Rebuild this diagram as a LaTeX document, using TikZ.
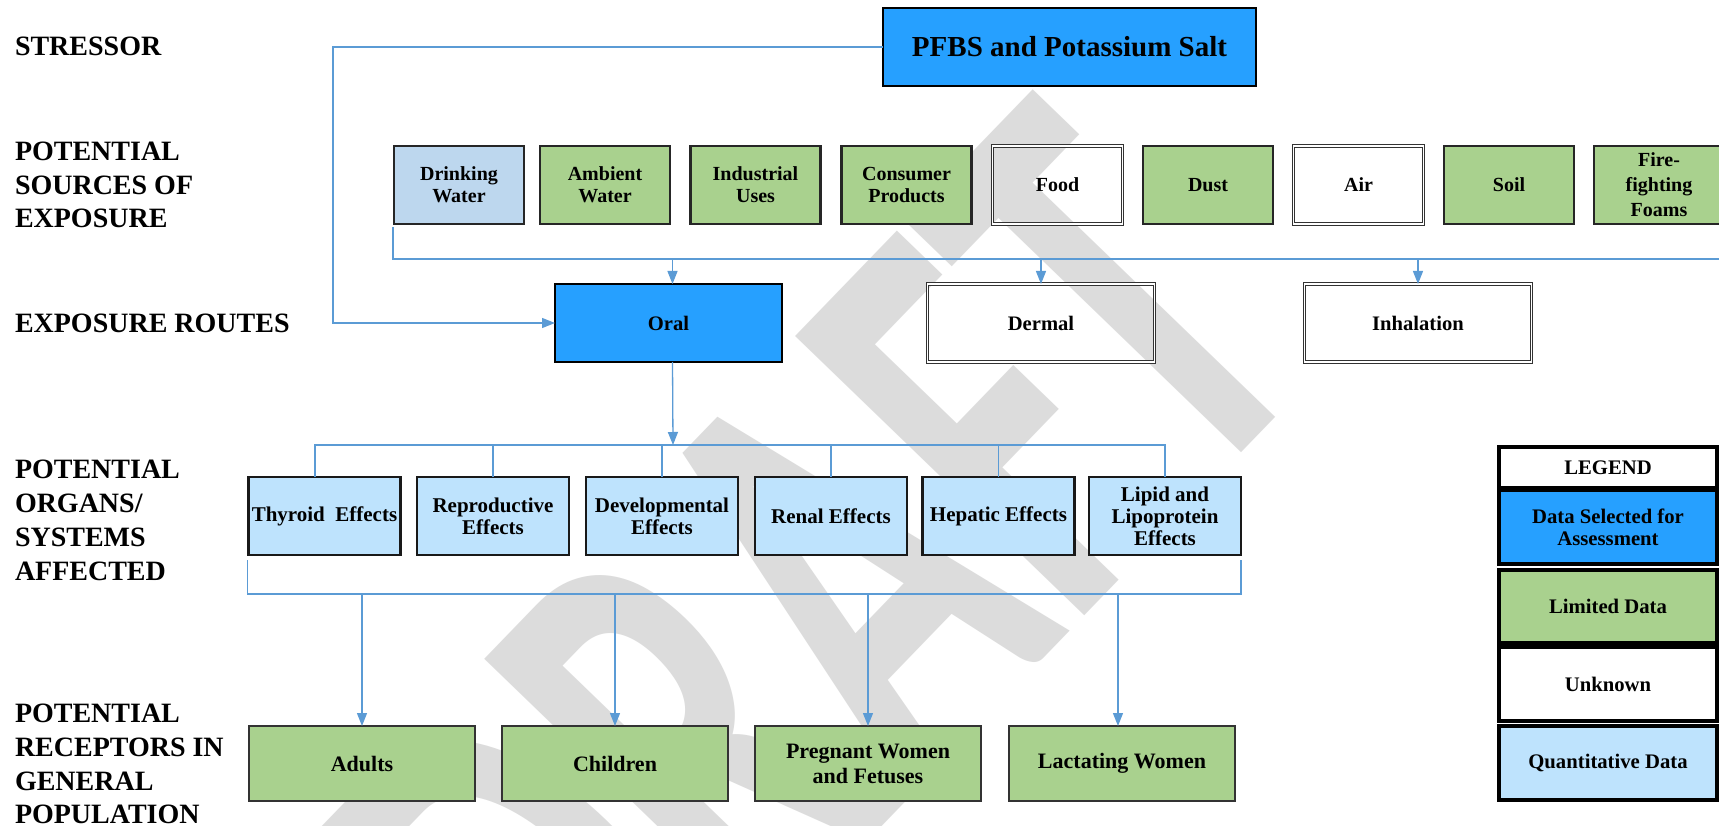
\documentclass[tikz,border=0pt]{standalone}
\usepackage{fontspec}
\usepackage{graphicx}
\setmainfont{Liberation Serif}
\newfontfamily\wmfont{Carlito}
\usetikzlibrary{arrows.meta}
\definecolor{bblue}{HTML}{26A0FF}
\definecolor{bgreen}{HTML}{A9D18E}
\definecolor{dwblue}{HTML}{BDD7EE}
\definecolor{lblue}{HTML}{BEE3FD}
\definecolor{lnblue}{HTML}{5B9BD5}
\definecolor{wmgray}{HTML}{DCDCDC}
\begin{document}
\begin{tikzpicture}[x=1pt,y=-1pt,
  every node/.style={inner sep=0pt, outer sep=0pt},
  bx/.style={align=center, font=\fontsize{20}{22}\selectfont\bfseries, line width=2.2pt, draw=black!85, minimum height=78pt},
  src/.style={bx, minimum width=130pt},
  eff/.style={bx, minimum width=152pt, fill=lblue, draw=black!90, font=\fontsize{21}{22}\selectfont\bfseries},
  rte/.style={bx, minimum width=227pt, font=\fontsize{20.6}{22}\selectfont\bfseries},
  rec/.style={bx, minimum width=226pt, minimum height=75pt, fill=bgreen, line width=1.2pt, draw=black!80, font=\fontsize{22}{25}\selectfont\bfseries},
  unk/.style={draw=black!80, line width=0.9pt, double=white, double distance=1.4pt},
  leg/.style={align=center, font=\fontsize{20.7}{22}\selectfont\bfseries, draw=black, line width=3.5pt, minimum width=218pt},
  lab/.style={anchor=base west, font=\fontsize{28}{34}\selectfont\bfseries},
  conn/.style={draw=lnblue, line width=1.3pt},
  arr/.style={conn, -{Triangle[length=13pt,width=10pt]}},
]
\useasboundingbox (0,0) rectangle (1719,826);
\clip (0,0) rectangle (1719,826);
\fill[white] (0,0) rectangle (1719,826);

% watermark
\node[rotate=46, anchor=base east, text=wmgray, font=\wmfont\fontsize{620}{620}\selectfont\bfseries] (wm) at (1325,367) {\scalebox{0.62}[1]{DRAFT}};

% left labels
\node[lab] (t1) at (15,56) {STRESSOR};
\node[lab] (t2a) at (15,161) {POTENTIAL};
\node[lab] (t2b) at (15,195) {SOURCES OF};
\node[lab] (t2c) at (15,228) {EXPOSURE};
\node[lab] (t3) at (15,333) {EXPOSURE ROUTES};
\node[lab] (t4a) at (15,478) {POTENTIAL};
\node[lab] (t4b) at (15,512) {ORGANS/};
\node[lab] (t4c) at (15,546) {SYSTEMS};
\node[lab] (t4d) at (15,580) {AFFECTED};
\node[lab] (t5a) at (15,722) {POTENTIAL};
\node[lab] (t5b) at (15,756) {RECEPTORS IN};
\node[lab] (t5c) at (15,790) {GENERAL};
\node[lab] (t5d) at (15,823) {POPULATION};

% stressor
\node[bx, fill=bblue, draw=black, minimum width=373pt, font=\fontsize{29}{30}\selectfont\bfseries] (pfbs) at (1069.5,47) {PFBS and Potassium Salt};

% sources
\node[src, fill=dwblue] (drink) at (459,185) {Drinking\\Water};
\node[src, fill=bgreen] (amb) at (605,185) {Ambient\\Water};
\node[src, fill=bgreen] (ind) at (755.5,185) {Industrial\\Uses};
\node[src, fill=bgreen] (cons) at (906.5,185) {Consumer\\Products};
\node[src, unk] (food) at (1057.5,185) {Food};
\node[src, fill=bgreen] (dust) at (1208,185) {Dust};
\node[src, unk] (air) at (1358.5,185) {Air};
\node[src, fill=bgreen] (soil) at (1509,185) {Soil};
\node[src, fill=bgreen, font=\fontsize{20}{25}\selectfont\bfseries] (fire) at (1659,185) {Fire-\\fighting\\Foams};

% routes
\node[rte, fill=bblue, draw=black] (oral) at (668.5,323) {Oral};
\node[rte, unk] (derm) at (1041,323) {Dermal};
\node[rte, unk] (inh) at (1418,323) {Inhalation};

% effects
\node[eff] (thy) at (324.5,516) {Thyroid~ Effects};
\node[eff] (rep) at (493,516) {Reproductive\\Effects};
\node[eff] (dev) at (662,516) {Developmental\\Effects};
\node[eff] (ren) at (831,516) {Renal Effects};
\node[eff] (hep) at (998.5,516) {Hepatic Effects};
\node[eff] (lip) at (1165,516) {Lipid and\\Lipoprotein\\Effects};

% receptors
\node[rec] (ad) at (362,763.5) {Adults};
\node[rec] (ch) at (615,763.5) {Children};
\node[rec] (pw) at (868,763.5) {Pregnant Women\\and Fetuses};
\node[rec] (lw) at (1122,763.5) {Lactating Women};

% legend
\node[leg, minimum height=41pt] (lg0) at (1608,467.5) {LEGEND};
\node[leg, fill=bblue, minimum height=74pt] (lg1) at (1608,527) {Data Selected for\\Assessment};
\node[leg, fill=bgreen, minimum height=73pt] (lg2) at (1608,606.5) {Limited Data};
\node[leg, minimum height=74pt] (lg3) at (1608,684) {Unknown};
\node[leg, fill=lblue, minimum height=74pt] (lg4) at (1608,763) {Quantitative Data};

% connectors
\draw[arr] (pfbs.west) -- ++(-550,0) |- (oral.west);
\coordinate (sbr) at (1719,259);
\draw[conn] ([xshift=-1pt,yshift=-3pt]drink.south west) |- (sbr);
\draw[arr] ([xshift=4pt]oral.north |- sbr) -- ([xshift=4pt]oral.north);
\draw[arr] (derm.north |- sbr) -- (derm.north);
\draw[arr] (inh.north |- sbr) -- (inh.north);

\coordinate (eb) at (673,445);
\draw[arr] ([xshift=4pt]oral.south) -- (eb);
\draw[conn] ([xshift=-9.5pt]thy.north) |- (lip.north |- eb) -- (lip.north);
\foreach \n in {rep,dev,ren,hep} \draw[conn] (\n.north) -- (\n.north |- eb);

\draw[conn] ([xshift=-1pt,yshift=-5pt]thy.south west) -- ([xshift=-1pt,yshift=-39pt]thy.south west) -| ([yshift=-5pt]lip.south east);
\coordinate (bb) at (0,594);
\draw[arr] (ad.north |- bb) -- (ad.north);
\draw[arr] (ch.north |- bb) -- (ch.north);
\draw[arr] (pw.north |- bb) -- (pw.north);
\draw[arr] ([xshift=-4pt]lw.north |- bb) -- ([xshift=-4pt]lw.north);
\end{tikzpicture}
\end{document}
